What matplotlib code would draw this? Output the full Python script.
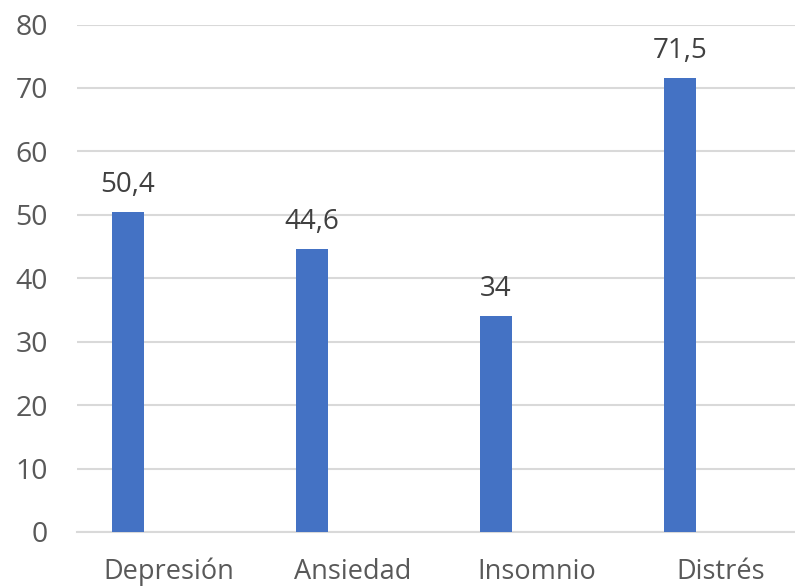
import matplotlib
matplotlib.use("Agg")
import matplotlib.pyplot as plt
import numpy as np

categories = ["Depresión", "Ansiedad", "Insomnio", "Distrés"]
values = [50.4, 44.6, 34, 71.5]
value_labels = ["50,4", "44,6", "34", "71,5"]
yticks = [0, 10, 20, 30, 40, 50, 60, 70, 80]

plt.rcParams['font.family'] = ['Open Sans', 'DejaVu Sans']

fig = plt.figure(figsize=(7.95, 5.86), dpi=100)
ax = fig.add_axes([77 / 795, 54 / 586, 718 / 795, 507.5 / 586])

x = np.arange(len(categories))
offset = -0.223
width = 0.174
bars = ax.bar(x + offset, values, width=width, color="#4472C4", zorder=3)

for xi, v, lab in zip(x, values, value_labels):
    ax.annotate(lab, (xi + offset, v), xytext=(0, 9.5), textcoords="offset points",
                ha="center", va="bottom", fontsize=20, color="#404040")

ax.set_xlim(-0.5, 3.402)
ax.set_ylim(0, 80)
ax.set_yticks(yticks)
ax.set_yticklabels([str(t) for t in yticks])
ax.set_xticks(x)
ax.set_xticklabels(categories)

ax.yaxis.grid(True, color="#d9d9d9", linewidth=1.5, zorder=0)
ax.set_axisbelow(True)
for side in ["top", "right", "left"]:
    ax.spines[side].set_visible(False)
ax.spines["bottom"].set_color("#d9d9d9")
ax.spines["bottom"].set_linewidth(1.5)

ax.tick_params(axis="y", length=0, pad=21, labelsize=20.5, labelcolor="#595959")
ax.tick_params(axis="x", length=0, pad=18.5, labelsize=19.5, labelcolor="#595959")

fig.savefig("out.png", dpi=100)
